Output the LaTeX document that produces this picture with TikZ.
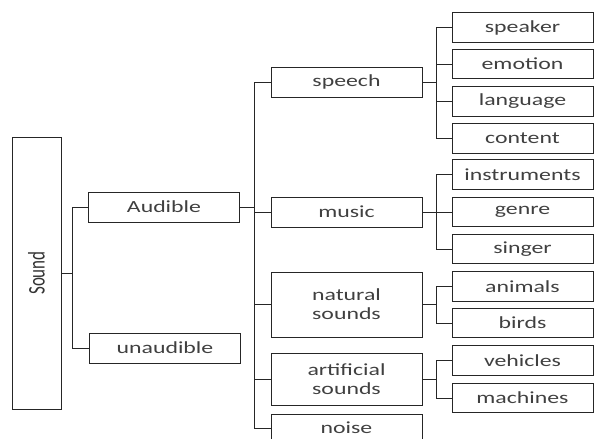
\documentclass[tikz,border=0pt]{standalone}
\usepackage{fontspec}
\newfontfamily\lbl[FakeStretch=1.4]{Carlito}
\newfontfamily\plainlbl{Carlito}
\begin{document}
\begin{tikzpicture}[x=1pt,y=-1pt,
  box/.style={draw=black!85, line width=1pt, inner sep=0pt, minimum width=151pt, minimum height=30pt,
    text=black!75, font=\lbl\fontsize{17}{19}\selectfont, align=center},
  leaf/.style={box, minimum width=141pt, minimum height=29.5pt},
  conn/.style={draw=black!85, line width=1pt}]
\useasboundingbox (0,0) rectangle (595,439);
\clip (0,0) rectangle (595,439);
% root
\node[box, minimum width=49pt, minimum height=272pt] (sound) at (36.5,273) {};
\node[rotate=90, text=black!80, font=\plainlbl\fontsize{17}{17}\selectfont] (soundtxt) at (sound.center) {\scalebox{1}[1.4]{Sound}};
% level 1
\node[box] (aud) at (164,207) {Audible};
\node[box] (unaud) at (165,348) {unaudible};
% level 2
\node[box] (speech) at (346.5,82) {speech};
\node[box] (music) at (346.5,212) {music};
\node[box, minimum height=65pt] (natural) at (346.5,304.5) {natural\\sounds};
\node[box, minimum height=52pt] (artificial) at (346.5,379) {artificial\\sounds};
\node[box, minimum height=40pt] (noise) at (346.5,434) {};
\node[text=black!75, font=\lbl\fontsize{17}{17}\selectfont] (noisetxt) at (346.5,428) {noise};
% leaves
\node[leaf] (speaker) at (522.5,27.5) {speaker};
\node[leaf] (emotion) at (522.5,64) {emotion};
\node[leaf] (language) at (522.5,101.5) {language};
\node[leaf] (content) at (522.5,138.5) {content};
\node[leaf] (instr) at (522.5,174.5) {instruments};
\node[leaf] (genre) at (522.5,212) {genre};
\node[leaf] (singer) at (522.5,249) {singer};
\node[leaf] (animals) at (522.5,286.5) {animals};
\node[leaf] (birds) at (522.5,323) {birds};
\node[leaf] (vehicles) at (522.5,360.5) {vehicles};
\node[leaf] (machines) at (522.5,398) {machines};
% level 1 connectors
\draw[conn] (aud.west) -- ++(-15.5,0) coordinate (b1) |- (unaud.west);
\draw[conn] (sound.east) -- (sound.east -| b1);
% level 2 connectors
\draw[conn] (speech.west) -- ++(-16,0) coordinate (b2) |- (noise.west |- noisetxt);
\draw[conn] (music.west) -- (music.west -| b2);
\draw[conn] (natural.west) -- (natural.west -| b2);
\draw[conn] (artificial.west) -- (artificial.west -| b2);
\draw[conn] (aud.east) -- (aud.east -| b2);
% speech leaves
\draw[conn] (speaker.west) -- ++(-15,0) coordinate (b3a) |- (content.west);
\draw[conn] (emotion.west) -- (emotion.west -| b3a);
\draw[conn] (language.west) -- (language.west -| b3a);
\draw[conn] (speech.east) -- (speech.east -| b3a);
% music leaves
\draw[conn] (instr.west) -- ++(-15,0) coordinate (b3b) |- (singer.west);
\draw[conn] (genre.west) -- (genre.west -| b3b);
\draw[conn] (music.east) -- (music.east -| b3b);
% natural leaves
\draw[conn] (animals.west) -- ++(-15,0) coordinate (b3c) |- (birds.west);
\draw[conn] (natural.east) -- (natural.east -| b3c);
% artificial leaves
\draw[conn] (vehicles.west) -- ++(-15,0) coordinate (b3d) |- (machines.west);
\draw[conn] (artificial.east) -- (artificial.east -| b3d);
\end{tikzpicture}
\end{document}
